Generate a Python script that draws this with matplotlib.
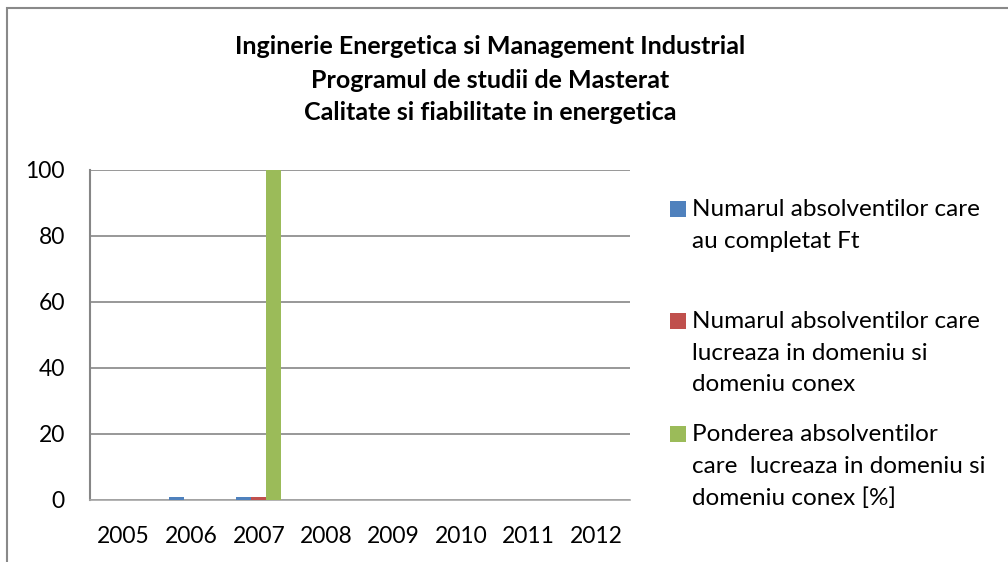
import matplotlib
matplotlib.use("Agg")
import matplotlib.pyplot as plt
import numpy as np
from matplotlib.patches import Rectangle

plt.rcParams["font.family"] = ["Lato", "DejaVu Sans"]

years = ["2005", "2006", "2007", "2008", "2009", "2010", "2011", "2012"]
completat_ft = [0, 1, 1, 0, 0, 0, 0, 0]
lucreaza_domeniu = [0, 0, 1, 0, 0, 0, 0, 0]
pondere_domeniu = [0, 0, 100, 0, 0, 0, 0, 0]

series_labels = [
    "Numarul absolventilor care\nau completat Ft",
    "Numarul absolventilor care\nlucreaza in domeniu si\ndomeniu conex",
    "Ponderea absolventilor\ncare  lucreaza in domeniu si\ndomeniu conex [%]",
]
series_values = [completat_ft, lucreaza_domeniu, pondere_domeniu]
series_colors = ["#4F81BD", "#C0504D", "#9BBB59"]

title_lines = [
    "Inginerie Energetica si Management Industrial",
    "Programul de studii de Masterat",
    "Calitate si fiabilitate in energetica",
]

W, H = 1008, 562
fig = plt.figure(figsize=(W / 100, H / 100), dpi=100)

# outer chart frame (right/bottom edges fall outside the picture)
fig.add_artist(Rectangle((7 / W, -0.1), 1.2, 1 - 8 / H + 0.1, transform=fig.transFigure,
                         fill=False, edgecolor="#898989", linewidth=1.5))

ax = fig.add_axes([90 / W, 1 - 500 / H, 540 / W, 330 / H])
x = np.arange(len(years))
bar_w = 1 / 4.5
for i, (vals, color) in enumerate(zip(series_values, series_colors)):
    ax.bar(x + (i - 1) * bar_w, vals, width=bar_w, color=color, zorder=3)

ax.set_xlim(-0.5, len(years) - 0.5)
ax.set_ylim(0, 100)
ax.set_yticks(np.arange(0, 101, 20))
ax.set_xticks(x)
ax.set_xticklabels(years)
ax.tick_params(axis="both", length=0, labelsize=16.5, colors="black")
ax.tick_params(axis="y", pad=18)
ax.tick_params(axis="x", pad=19)
ax.yaxis.grid(True, color="#868686", linewidth=1.2, zorder=0)
ax.set_axisbelow(True)
for side in ("top", "right"):
    ax.spines[side].set_visible(False)
ax.spines["left"].set_color("#868686")
ax.spines["left"].set_linewidth(1.5)
ax.spines["bottom"].set_color("#A6A6A6")
ax.spines["bottom"].set_linewidth(1.2)

for k, line in enumerate(title_lines):
    fig.text(490 / W, 1 - (47 + 33 * k) / H, line, ha="center", va="center",
             fontsize=18, fontweight="bold")

# legend drawn at the right of the plot area
legend_squares = [201, 313, 426]
for top, label, color in zip(legend_squares, series_labels, series_colors):
    fig.add_artist(Rectangle((670 / W, 1 - (top + 16) / H), 16 / W, 16 / H,
                             transform=fig.transFigure, facecolor=color, edgecolor="none"))
    fig.text(692 / W, 1 - (top - 2) / H, label, ha="left", va="top", fontsize=17.5,
             linespacing=1.62)

fig.savefig("out.png", dpi=100, facecolor="white")
